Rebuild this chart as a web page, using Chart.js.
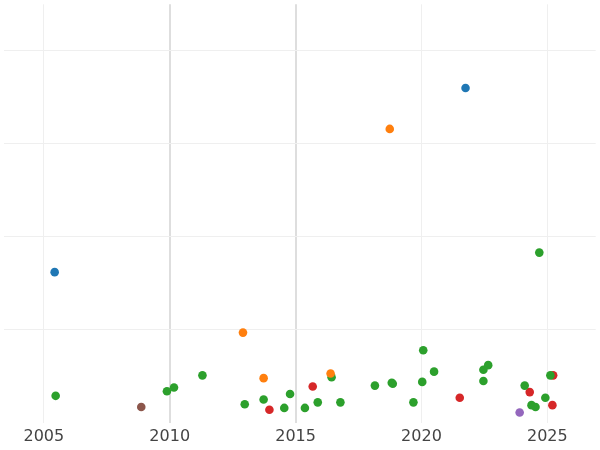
<!DOCTYPE html>
<html><head><script src="https://cdn.jsdelivr.net/npm/chart.js@4"></script>
<style>html,body{margin:0;padding:0;background:#fff}#w{width:600px;height:450px}</style></head>
<body><div id="w"><canvas id="c"></canvas></div>
<script>
const xTicks=[2005,2010,2015,2020,2025];
const blueX=[2005.43,2021.75], blueY=[16.2,36.0];
const orangeX=[2018.74,2012.91,2013.73,2016.39], orangeY=[31.6,9.7,4.8,5.3];
const greenX=[2005.47,2009.89,2010.17,2011.30,2012.98,2013.73,2014.55,2014.78,2015.37,2015.88,2016.43,2016.78,2018.15,2018.82,2018.86,2019.68,2020.03,2020.07,2020.50,2022.46,2022.46,2022.65,2024.10,2024.37,2024.53,2024.68,2024.92,2025.12];
const greenY=[2.9,3.4,3.8,5.1,2.0,2.5,1.6,3.1,1.6,2.2,4.9,2.2,4.0,4.3,4.2,2.2,4.4,7.8,5.5,5.7,4.5,6.2,4.0,1.9,1.7,18.3,2.7,5.1];
const redX=[2013.96,2015.68,2021.52,2024.30,2025.23,2025.20], redY=[1.4,3.9,2.7,3.3,5.1,1.9];
const brownX=[2008.87], brownY=[1.7];
const purpleX=[2023.90], purpleY=[1.1];
const pts=(xs,ys)=>xs.map((x,i)=>({x,y:ys[i]}));
const ds=(xs,ys,c)=>({data:pts(xs,ys),backgroundColor:c,borderColor:c,pointRadius:4.3,pointHoverRadius:4.3,borderWidth:0});
new Chart(document.getElementById('c'),{type:'scatter',
data:{datasets:[ds(blueX,blueY,'#1f77b4'),ds(orangeX,orangeY,'#ff7f0e'),ds(greenX,greenY,'#2ca02c'),ds(redX,redY,'#d62728'),ds(brownX,brownY,'#8c564b'),ds(purpleX,purpleY,'#9467bd')]},
options:{responsive:true,maintainAspectRatio:false,animation:false,layout:{padding:0},
plugins:{legend:{display:false},tooltip:{enabled:false}},
scales:{
x:{type:'linear',min:2003.43,max:2026.92,border:{display:false},
afterBuildTicks:a=>{a.ticks=xTicks.map(v=>({value:v}));},
grid:{color:c=>(c.tick&&(c.tick.value===2010||c.tick.value===2015))?'#dedede':'#efefef',lineWidth:c=>(c.tick&&(c.tick.value===2010||c.tick.value===2015))?2:1,drawTicks:false},
ticks:{color:'#444',font:{family:'DejaVu Sans',size:16},padding:4,maxRotation:0,callback:v=>String(v)}},
y:{min:0,max:45,border:{display:false},afterFit:a=>{a.width=0;},
afterBuildTicks:a=>{a.ticks=[10,20,30,40].map(v=>({value:v}));},
grid:{color:'#efefef',drawTicks:false},ticks:{display:false}}
}}});
</script></body></html>
